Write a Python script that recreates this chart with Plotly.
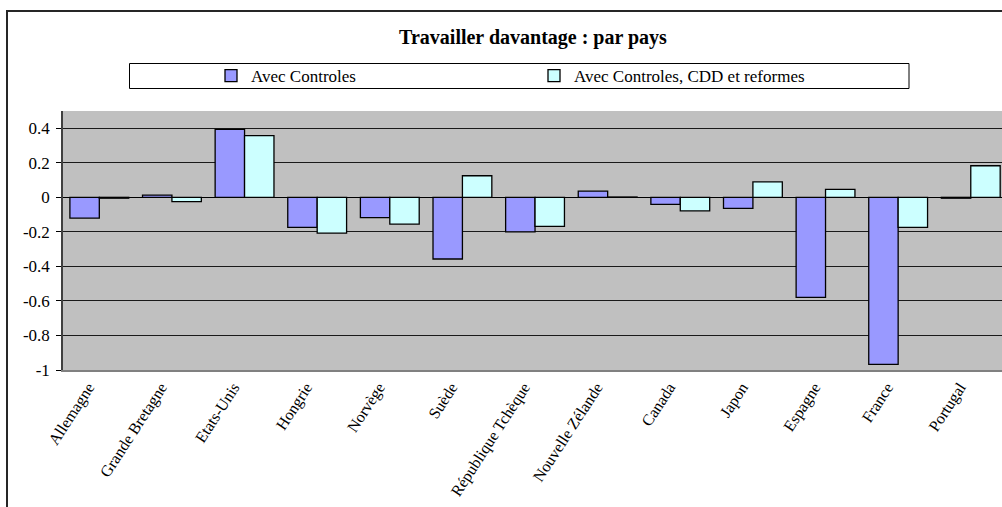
import plotly.graph_objects as go

categories = ["Allemagne", "Grande Bretagne", "Etats-Unis", "Hongrie", "Norvège", "Suède",
              "République Tchèque", "Nouvelle Zélande", "Canada", "Japon", "Espagne", "France", "Portugal"]
avec_controles = [-0.12, 0.013, 0.394, -0.174, -0.118, -0.357, -0.20, 0.036, -0.041, -0.064, -0.579, -0.967, -0.005]
avec_cdd_reformes = [-0.005, -0.025, 0.357, -0.207, -0.155, 0.125, -0.168, 0.002, -0.079, 0.09, 0.046, -0.174, 0.183]
y_ticks = [0.4, 0.2, 0, -0.2, -0.4, -0.6, -0.8, -1]

W, H = 1002, 507
L, R, T, B = 63, 0, 111, 137
PW, PH = W - L - R, H - T - B

def px_x(p):
    return (p - L) / PW

def px_y(p):
    return (H - B - p) / PH

SERIF = "Liberation Serif"
xr = [-0.5, 12.43]

fig = go.Figure()
fig.add_trace(go.Bar(x=categories, y=avec_controles, name="Avec Controles",
                     marker=dict(color="#9999FF", line=dict(color="#000000", width=1.3))))
fig.add_trace(go.Bar(x=categories, y=avec_cdd_reformes, name="Avec Controles, CDD et reformes",
                     marker=dict(color="#CCFFFF", line=dict(color="#000000", width=1.3))))

boundaries = [i + 0.5 for i in range(len(categories))]

fig.update_layout(
    width=W, height=H,
    margin=dict(l=L, r=R, t=T, b=B, pad=0),
    paper_bgcolor="white",
    plot_bgcolor="#C0C0C0",
    barmode="group", bargap=0.19, bargroupgap=0,
    font=dict(family=SERIF, color="black", size=16),
    title=dict(text="<b>Travailler davantage : par pays</b>", x=533 / W, xanchor="center",
               y=(H - 37) / H, yanchor="middle", font=dict(family=SERIF, size=20, color="black")),
    showlegend=True,
    legend=dict(orientation="h", x=px_x(231 - 20), xanchor="left", y=px_y(76), yanchor="middle",
                bgcolor="rgba(0,0,0,0)", borderwidth=0, entrywidth=278, entrywidthmode="pixels",
                font=dict(family=SERIF, size=17, color="black"), traceorder="normal"),
    xaxis=dict(range=xr, tickangle=-57, ticks="", showgrid=False, zeroline=False,
               showline=True, linecolor="#808080", linewidth=1.5, mirror=False,
               ticklabelshift=-11,
               tickfont=dict(family=SERIF, size=16, color="black")),
    xaxis2=dict(overlaying="x", anchor="free", position=2 / 3, range=xr, tickmode="array",
                tickvals=boundaries, ticks="outside", ticklen=4, tickcolor="#000000", tickwidth=1,
                showticklabels=False, showgrid=False, zeroline=False, showline=False),
    yaxis=dict(range=[-1, 0.5], tickmode="array", tickvals=y_ticks,
               ticktext=[f"{v:g}" for v in y_ticks], ticks="outside", ticklen=5,
               tickcolor="#000000", showgrid=True, gridcolor="#1a1a1a", gridwidth=1,
               zeroline=True, zerolinecolor="#000000", zerolinewidth=1.3,
               showline=True, linecolor="#404040", linewidth=1.5,
               tickfont=dict(family=SERIF, size=17, color="black"), ticklabelstandoff=3),
    shapes=[
        dict(type="rect", xref="paper", yref="paper", x0=px_x(7), x1=px_x(1010), y0=px_y(515), y1=px_y(11),
             line=dict(color="#262626", width=2), fillcolor="rgba(0,0,0,0)", layer="above"),
        dict(type="rect", xref="paper", yref="paper", x0=px_x(129.5), x1=px_x(909), y0=px_y(88.5), y1=px_y(63.5),
             line=dict(color="#000000", width=1), fillcolor="rgba(0,0,0,0)", layer="above"),
    ],
)

fig.write_html("out.html", config={"displayModeBar": False},
               post_script="document.body.style.margin='0';document.body.style.overflow='hidden';")
